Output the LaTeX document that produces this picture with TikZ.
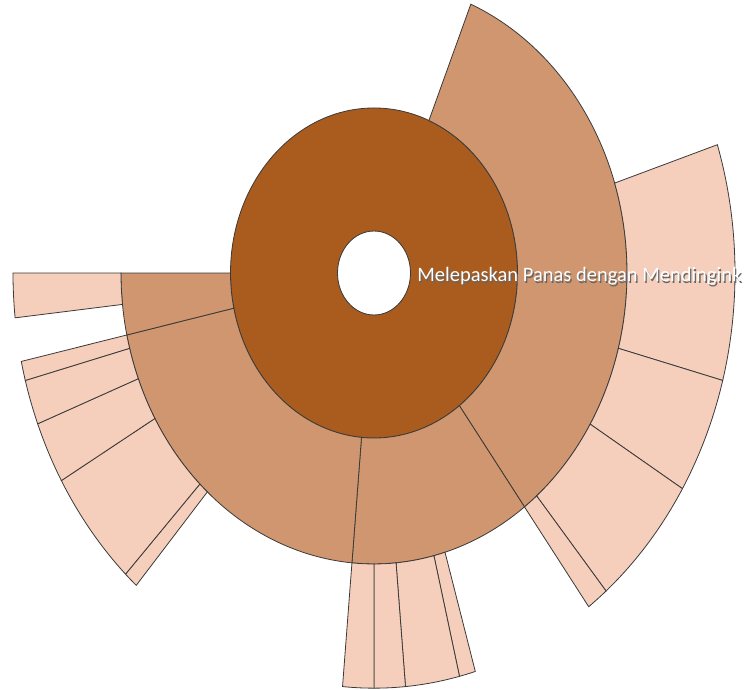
\documentclass[tikz,border=0pt]{standalone}
\usepackage{fontspec}
\setmainfont{Carlito}
\usetikzlibrary{positioning}
\definecolor{cring1}{HTML}{AA5C1E}
\definecolor{cring2}{HTML}{D0966F}
\definecolor{cring3}{HTML}{F5CFBB}
\definecolor{cedge}{HTML}{3A3A3A}
\tikzset{
  every picture/.style={line width=0.8pt},
  seg/.style={draw=cedge, fill=#1},
  seg/.default=cring3,
  lbl/.style={font=\fontsize{20.5}{24}\selectfont, text=white, anchor=base west, inner sep=0pt},
}

\begin{document}
\begin{tikzpicture}[x=1pt, y=1pt]
  \newcommand{\annseg}[5]{% fill, start, end, inner r, outer r
    \draw[seg=#1] (#2:#4) arc[start angle=#2, end angle=#3, radius=#4] -- (#3:#5) arc[start angle=#3, end angle=#2, radius=#5] -- cycle;}
  \useasboundingbox (-374,-416) rectangle (377,273);

  \begin{scope}[yscale=1.15]
    % ---- inner ring
    \draw[seg=cring1, even odd rule] (0,0) circle[radius=143.5] (0,0) circle[radius=36.5];
    % ---- second ring
    \foreach \a/\b in {67.5/-53.5, -53.5/-95, -95/-167.7, 180/192.3}
      \annseg{cring2}{\a}{\b}{143.5}{253};
    % ---- outer ring
    \foreach \a/\b in {18/-15, -15/-31.3, -31.3/-50, -50/-53.5,
                       -73.7/-76.3, -76.3/-85, -85/-90, -90/-95,
                       -131.2/-133.5, -133.5/-150, -150/-158.7, -158.7/-165, -165/-167.7,
                       180/186.2}
      \annseg{cring3}{\a}{\b}{253}{361};
  \end{scope}

  % label, cut at the plot edge
  \begin{scope}
    \clip (-374,-416) rectangle (369,273);
    \node[lbl, text=black!60] (rootshadow) at (44.3,-10) {Melepaskan Panas dengan Mendingink};
    \node[lbl] (root) at (43,-8.7) {Melepaskan Panas dengan Mendingink};
  \end{scope}
\end{tikzpicture}
\end{document}
